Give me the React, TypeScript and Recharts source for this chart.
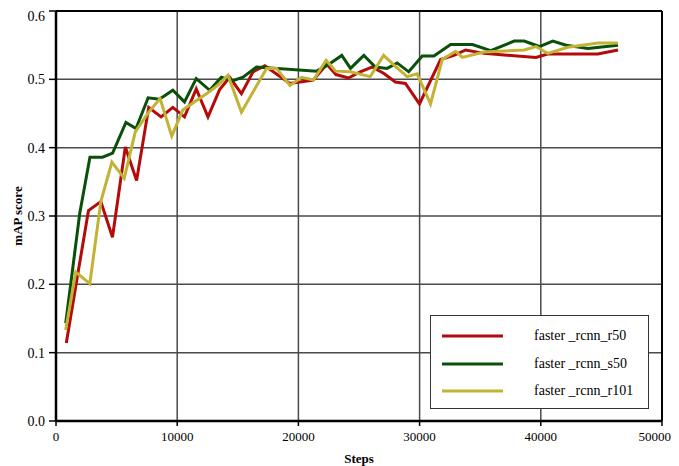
import React from 'react';
import { LineChart, Line, XAxis, YAxis, CartesianGrid, Legend, ReferenceLine } from 'recharts';

const seriesNames = ['faster _rcnn_r50', 'faster _rcnn_s50', 'faster _rcnn_r101'];
const seriesColors = ['#b40a0a', '#0a500a', '#c2b334'];

const xTicks = [0, 10000, 20000, 30000, 40000, 50000];
const yTicks = [0, 0.1, 0.2, 0.3, 0.4, 0.5, 0.6];

const r50Steps = [850, 1760, 2680, 3700, 4660, 5720, 6650, 7650, 8670, 9640, 10600, 11570, 12540, 13500, 14330, 15300, 16260, 17230, 19300, 21230, 22340, 23100, 24130, 25100, 26070, 27030, 28000, 28830, 29990, 31730, 32830, 33800, 35320, 39600, 40570, 44710, 46370];
const r50Values = [0.114, 0.211, 0.308, 0.321, 0.269, 0.401, 0.352, 0.459, 0.445, 0.459, 0.445, 0.486, 0.445, 0.485, 0.503, 0.479, 0.511, 0.52, 0.494, 0.499, 0.522, 0.507, 0.502, 0.511, 0.518, 0.509, 0.496, 0.494, 0.464, 0.529, 0.535, 0.543, 0.538, 0.532, 0.537, 0.537, 0.543];

const s50Steps = [800, 1960, 2800, 3840, 4670, 5770, 6600, 7600, 8530, 9640, 10600, 11570, 12680, 13640, 14600, 15430, 16540, 21500, 22340, 23580, 24300, 25400, 26350, 27320, 28150, 29100, 30220, 31180, 32560, 34360, 35870, 37800, 38630, 39880, 40990, 42090, 43890, 46370];
const s50Values = [0.143, 0.304, 0.386, 0.386, 0.392, 0.437, 0.428, 0.473, 0.471, 0.484, 0.467, 0.501, 0.484, 0.503, 0.498, 0.503, 0.518, 0.512, 0.52, 0.535, 0.516, 0.535, 0.518, 0.516, 0.524, 0.511, 0.534, 0.534, 0.551, 0.551, 0.542, 0.556, 0.556, 0.548, 0.556, 0.55, 0.545, 0.55];

const r101Steps = [800, 1630, 2790, 3700, 4610, 5630, 6540, 7650, 8590, 9550, 10460, 11500, 12500, 13400, 14190, 15300, 17370, 18200, 19300, 20270, 21240, 22290, 23070, 24270, 25930, 27030, 28000, 28970, 29800, 30900, 31870, 32970, 33530, 35320, 38630, 39600, 40570, 42230, 44710, 46370];
const r101Values = [0.133, 0.218, 0.201, 0.321, 0.379, 0.355, 0.423, 0.452, 0.472, 0.417, 0.455, 0.468, 0.48, 0.492, 0.506, 0.452, 0.516, 0.516, 0.491, 0.503, 0.499, 0.528, 0.512, 0.511, 0.504, 0.535, 0.519, 0.504, 0.508, 0.464, 0.529, 0.541, 0.532, 0.54, 0.543, 0.548, 0.538, 0.547, 0.553, 0.553];

const toData = (steps: number[], values: number[]) => steps.map((s, i) => ({ step: s, value: values[i] }));

const seriesData = [toData(r50Steps, r50Values), toData(s50Steps, s50Values), toData(r101Steps, r101Values)];

const FONT = '"Liberation Serif", "Times New Roman", serif';

const LegendBox = (props: any) => {
  const payload = [...(props.payload || [])].sort(
    (a: any, b: any) => seriesNames.indexOf(a.value) - seriesNames.indexOf(b.value)
  );
  return (
    <div style={{ position: 'relative', width: 219, height: 94, boxSizing: 'border-box', border: '1.5px solid #333', background: '#fff', fontFamily: FONT, fontSize: 14, color: '#000' }}>
      {payload.map((p: any, i: number) => (
        <div key={i} style={{ position: 'absolute', left: 0, top: 20 + i * 27.5 - 10, height: 20, width: '100%' }}>
          <svg width={80} height={20} style={{ position: 'absolute', left: 0, top: 0 }}>
            <line x1={11} x2={72} y1={10} y2={10} stroke={p.color} strokeWidth={3} />
          </svg>
          <span style={{ position: 'absolute', left: 103, top: 1, lineHeight: '18px', whiteSpace: 'nowrap' }}>{p.value}</span>
        </div>
      ))}
    </div>
  );
};

export default function App() {
  return (
    <LineChart width={663} height={458} margin={{ top: 3, right: 9, bottom: 0, left: 0 }}>
      <CartesianGrid stroke="#4a4a4a" strokeWidth={1.5} horizontalValues={yTicks} verticalValues={xTicks} />
      <XAxis
        type="number"
        dataKey="step"
        domain={[0, 50000]}
        ticks={xTicks}
        allowDuplicatedCategory={false}
        height={45}
        stroke="#000"
        axisLine={{ stroke: '#000', strokeWidth: 2.5 }}
        tickLine={{ stroke: '#000', strokeWidth: 1.5 }}
        tickSize={5}
        tickMargin={6}
        tick={{ fill: '#000', fontFamily: FONT, fontSize: 13 }}
        label={{ value: 'Steps', position: 'insideBottom', offset: 3, style: { fontFamily: FONT, fontSize: 13, fontWeight: 'bold', fill: '#000' } }}
      />
      <YAxis
        type="number"
        domain={[0, 0.6]}
        ticks={yTicks}
        width={48}
        axisLine={{ stroke: '#000', strokeWidth: 2.5 }}
        tickLine={{ stroke: '#000', strokeWidth: 1.5 }}
        tickSize={7}
        tickMargin={4}
        tickFormatter={(v: number) => v.toFixed(1)}
        tick={{ fill: '#000', fontFamily: FONT, fontSize: 14 }}
        label={{ value: 'mAP score', angle: -90, position: 'insideLeft', offset: 9, style: { textAnchor: 'middle', fontFamily: FONT, fontSize: 13, fontWeight: 'bold', fill: '#000' } }}
      />
      <ReferenceLine y={0.6} stroke="#000" strokeWidth={2} />
      <ReferenceLine x={50000} stroke="#000" strokeWidth={2} />
      {seriesData.map((d, i) => (
        <Line
          key={seriesNames[i]}
          data={d}
          dataKey="value"
          name={seriesNames[i]}
          type="linear"
          stroke={seriesColors[i]}
          strokeWidth={3}
          dot={false}
          activeDot={false}
          isAnimationActive={false}
        />
      ))}
      <Legend
        layout="horizontal"
        verticalAlign="middle"
        align="center"
        content={<LegendBox />}
        wrapperStyle={{ position: 'absolute', left: 422, top: 307, width: 219, height: 94 }}
      />
    </LineChart>
  );
}
